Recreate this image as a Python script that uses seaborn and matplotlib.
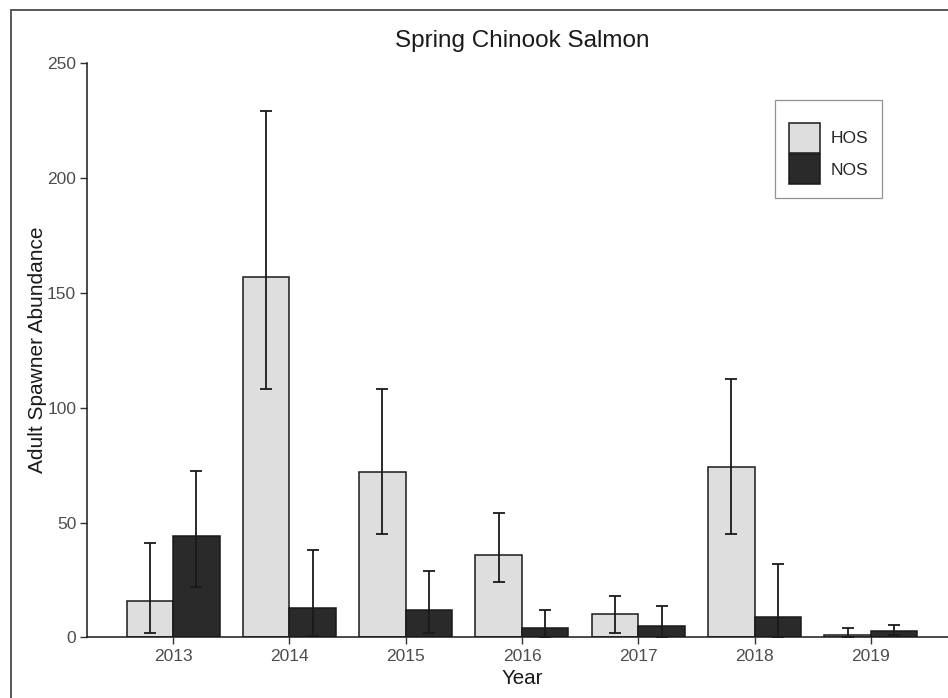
import numpy as np
import pandas as pd
import matplotlib
matplotlib.use("Agg")
import matplotlib.pyplot as plt
from matplotlib.patches import Rectangle
import seaborn as sns

# ─── DATA ─────────────────────────────────────────────────────────────────────
years    = ["2013", "2014", "2015", "2016", "2017", "2018", "2019"]
groups   = ["HOS", "NOS"]
hos      = [16, 157, 72, 36, 10, 74, 1]
hos_low  = [2, 108, 45, 24, 2, 45, 0]
hos_high = [41, 229, 108, 54, 18, 112.5, 4]
nos      = [44, 13, 12, 4, 5, 9, 3]
nos_low  = [22, 0.5, 2, 0, 0, 0, 1]
nos_high = [72.5, 38, 29, 12, 13.5, 32, 5.5]
y_ticks  = [0, 50, 100, 150, 200, 250]
# ──────────────────────────────────────────────────────────────────────────────

df = pd.DataFrame({
    "Year": years * 2,
    "Origin": ["HOS"] * len(years) + ["NOS"] * len(years),
    "Abundance": hos + nos,
})
lows = {"HOS": hos_low, "NOS": nos_low}
highs = {"HOS": hos_high, "NOS": nos_high}

sns.set_theme(style="white")
plt.rcParams["font.family"] = ["Liberation Sans", "DejaVu Sans"]

fig = plt.figure(figsize=(9.48, 6.98), dpi=100)
ax = fig.add_axes([0.0921, 0.0867, 0.917, 0.8234])

sns.barplot(data=df, x="Year", y="Abundance", hue="Origin", order=years,
            hue_order=groups, palette={"HOS": "#dedede", "NOS": "#2a2a2a"},
            errorbar=None, width=0.8, edgecolor="#1a1a1a", linewidth=1.1,
            saturation=1, ax=ax)

# asymmetric error bars placed on the bar centres seaborn drew
for cont, g in zip(ax.containers, groups):
    xs = [b.get_x() + b.get_width() / 2 for b in cont]
    vals = [b.get_height() for b in cont]
    lo = np.array(vals) - np.array(lows[g])
    hi = np.array(highs[g]) - np.array(vals)
    ax.errorbar(xs, vals, yerr=[lo, hi], fmt="none", ecolor="#1a1a1a",
                elinewidth=1.3, capsize=4.3, capthick=1.3, zorder=5)

ax.set_xlim(-0.737, 6.737)
ax.set_ylim(0, 250)
ax.set_yticks(y_ticks)
ax.set_yticklabels([str(t) for t in y_ticks])

ax.set_title("Spring Chinook Salmon", fontsize=17.5, color="#1a1a1a", pad=11)
ax.set_xlabel("Year", fontsize=14.8, color="#1a1a1a", labelpad=4)
ax.set_ylabel("Adult Spawner Abundance", fontsize=15, color="#1a1a1a", labelpad=0)

ax.tick_params(axis="both", which="both", length=5, width=1.0, color="#333333",
               labelsize=12.5, labelcolor="#4d4d4d", pad=3,
               bottom=True, left=True)

sns.despine(ax=ax)
for side in ["left", "bottom"]:
    ax.spines[side].set_color("#1a1a1a")
    ax.spines[side].set_linewidth(1.1)

handles, labels = ax.get_legend_handles_labels()
ax.legend(handles, labels, loc="upper left",
          bbox_to_anchor=(775 / 948, 1 - 100 / 698), bbox_transform=fig.transFigure,
          frameon=True, fancybox=False, edgecolor="#777777", fontsize=12.5,
          handlelength=1.79, handleheight=2.28, handletextpad=0.6,
          labelspacing=0.1, borderpad=0.8, borderaxespad=0,
          title=" ", title_fontsize=6)
ax.get_legend().get_frame().set_linewidth(0.9)

# outer frame of the original figure (cropped on the right and bottom)
fig.patches.append(Rectangle((11 / 948, -0.1), 1.2, 1.1 - 10 / 698,
                             transform=fig.transFigure, fill=False,
                             edgecolor="#4a4a4a", linewidth=1.3))

fig.savefig("out.png", dpi=100)
